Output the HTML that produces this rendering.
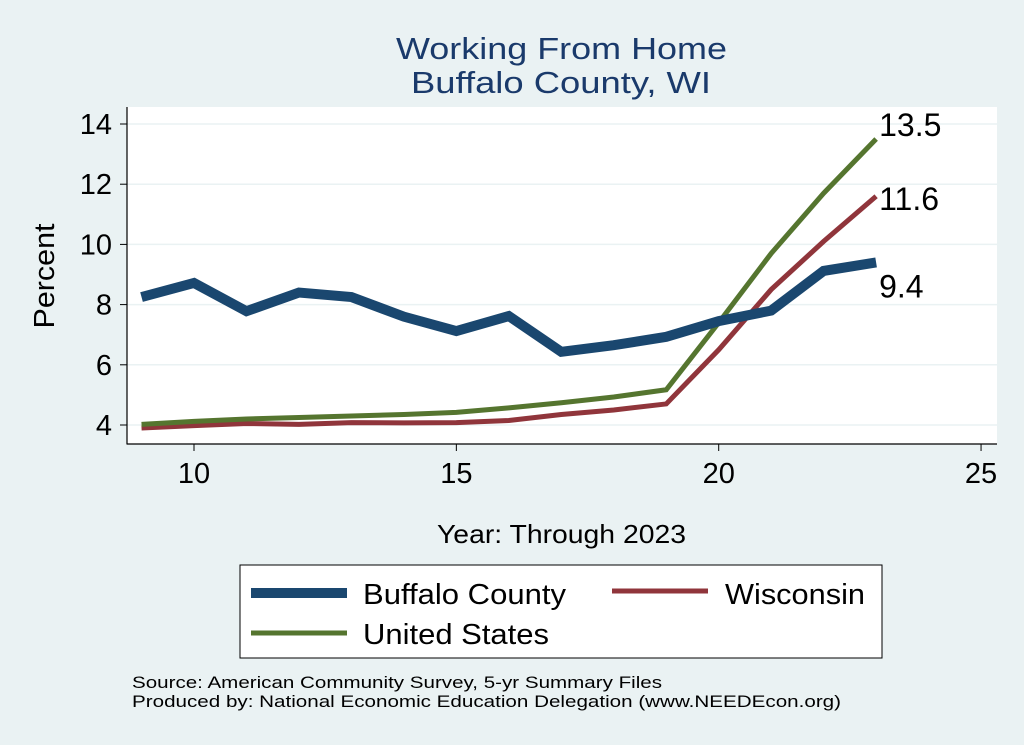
<!DOCTYPE html>
<html><head><meta charset="utf-8"><style>
body{margin:0;background:#eaf2f3;}
svg{display:block;font-family:"Liberation Sans",Arial,sans-serif;}
</style></head><body>
<svg width="1024" height="745" viewBox="0 0 1024 745">
<rect x="0" y="0" width="1024" height="745" fill="#eaf2f3"/>
<text x="396" y="59" font-size="31" fill="#1a3a6b" textLength="331" lengthAdjust="spacingAndGlyphs">Working From Home</text>
<text x="411" y="93" font-size="31" fill="#1a3a6b" textLength="300" lengthAdjust="spacingAndGlyphs">Buffalo County, WI</text>
<rect x="127" y="107" width="870" height="337" fill="#fff"/>
<g id="grid"></g><g id="axes"></g><g id="series"></g>
<text transform="translate(54,276) rotate(-90)" font-size="29" text-anchor="middle" textLength="105" lengthAdjust="spacingAndGlyphs">Percent</text>
<text x="437" y="543" font-size="26" textLength="249" lengthAdjust="spacingAndGlyphs">Year: Through 2023</text>
<g>
<rect x="240" y="565" width="642" height="93" fill="#fff" stroke="#000" stroke-width="1"/>
<line x1="251" y1="593" x2="347" y2="593" stroke="#1a476f" stroke-width="10"/>
<text x="363" y="604" font-size="29" textLength="203" lengthAdjust="spacingAndGlyphs">Buffalo County</text>
<line x1="612" y1="591" x2="708" y2="591" stroke="#90353b" stroke-width="5"/>
<text x="725" y="604" font-size="29" textLength="140" lengthAdjust="spacingAndGlyphs">Wisconsin</text>
<line x1="251" y1="633" x2="347" y2="633" stroke="#55752f" stroke-width="5"/>
<text x="363" y="644" font-size="29" textLength="186" lengthAdjust="spacingAndGlyphs">United States</text>
</g>
<text x="132" y="688" font-size="17" textLength="530" lengthAdjust="spacingAndGlyphs">Source: American Community Survey, 5-yr Summary Files</text>
<text x="132" y="707" font-size="17" textLength="709" lengthAdjust="spacingAndGlyphs">Produced by: National Economic Education Delegation (www.NEEDEcon.org)</text>
</svg>
<script>
const years=[9,10,11,12,13,14,15,16,17,18,19,20,21,22,23];
const buffalo=[8.25,8.72,7.78,8.4,8.25,7.6,7.12,7.62,6.43,6.65,6.93,7.45,7.8,9.12,9.4];
const wisconsin=[3.9,3.98,4.05,4.02,4.08,4.07,4.08,4.15,4.35,4.5,4.7,6.5,8.5,10.1,11.6];
const us=[4.02,4.12,4.2,4.25,4.3,4.35,4.42,4.57,4.74,4.93,5.17,7.4,9.7,11.7,13.5];
const yTicks=[4,6,8,10,12,14];
const xTicks=[10,15,20,25];
const NS='http://www.w3.org/2000/svg';
const xs=v=>194+(v-10)*52.47;
const ys=v=>425-(v-4)*30.1;
function mk(t,a,p){const e=document.createElementNS(NS,t);for(const k in a)e.setAttribute(k,a[k]);p.appendChild(e);return e;}
const grid=document.getElementById('grid'),axes=document.getElementById('axes'),ser=document.getElementById('series');
yTicks.forEach(v=>{
 const g=mk('line',{x1:127,x2:997,y1:ys(v),y2:ys(v),stroke:'#eaf2f3','stroke-width':1.5},grid);
 
 
 mk('line',{x1:120,x2:127,y1:ys(v),y2:ys(v),stroke:'#000','stroke-width':1},axes);
 const t=mk('text',{x:112,y:ys(v)+10,'font-size':29,'text-anchor':'end'},axes);t.textContent=v;
 
 
});
xTicks.forEach(v=>{
 mk('line',{x1:xs(v),x2:xs(v),y1:444,y2:451,stroke:'#000','stroke-width':1},axes);
 const t=mk('text',{x:xs(v),y:483,'font-size':29,'text-anchor':'middle'},axes);t.textContent=v;
 
 
});
mk('line',{x1:127,x2:127,y1:107,y2:444.5,stroke:'#000','stroke-width':1.2},axes);
mk('line',{x1:127,x2:997,y1:444,y2:444,stroke:'#000','stroke-width':1.2},axes);
function line(vals,color,w,name){
 const p=mk('polyline',{points:vals.map((v,i)=>xs(years[i])+','+ys(v)).join(' '),fill:'none',stroke:color,'stroke-width':w,'stroke-linejoin':'miter','stroke-linecap':'butt'},ser);
 
 
}
line(wisconsin,'#90353b',5,'wisconsin-line');
line(us,'#55752f',5,'us-line');
line(buffalo,'#1a476f',10,'buffalo-line');
const last=years.length-1;
[[us,-3,'us-end-label'],[wisconsin,14,'wisconsin-end-label'],[buffalo,35,'buffalo-end-label']].forEach(([arr,dy,n])=>{
 const v=arr[last];
 const t=mk('text',{x:xs(years[last])+3,y:ys(v)+dy,'font-size':32},ser);
 t.textContent=v.toFixed(1);
 
 
});
</script>
</body></html>
